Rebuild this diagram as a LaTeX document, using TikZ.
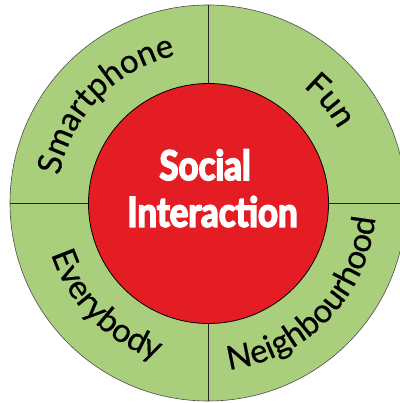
\documentclass[tikz,border=0pt]{standalone}
\usepackage{fontspec}
\usetikzlibrary{decorations.text}
\newfontfamily\latofam[FakeBold=0.5]{Lato}
\newfontfamily\titlefam[FakeStretch=0.85,FakeBold=4]{Lato}
\definecolor{ringgreen}{RGB}{170,207,124}
\definecolor{corered}{RGB}{228,28,36}
\newcommand\lblfont{\latofam\fontsize{33pt}{33pt}\selectfont}
\begin{document}
\begin{tikzpicture}[x=1pt,y=1pt,
  ring/.style={circle, fill=ringgreen, draw=black!70, line width=0.6pt, minimum size=396pt, inner sep=0pt},
  core/.style={circle, fill=corered, draw=black, line width=0.8pt, minimum size=240pt, inner sep=0pt},
  divider/.style={draw=black!85, line width=0.8pt},
  title/.style={text=white, font=\titlefam\bfseries\fontsize{41pt}{41pt}\selectfont, anchor=base, inner sep=0pt},
  arctext/.style={decorate, decoration={text along path, text align=center, text={#1}}}
]
\useasboundingbox (0,0) rectangle (399,403);
\node[ring] (outer) at (208,200) {};
\draw[divider] (outer.north) -- (outer.south);
\draw[divider] (outer.west) -- (outer.east);
\node[core] (core) at (208.5,199.5) {};
\node[title] (t1) at (205,223) {Social};
\node[title] (t2) at (212.5,176.3) {Interaction};
\coordinate (c) at (208,200);
\path[arctext={|\lblfont|Smartphone}] ([shift={(181:151)}]c) arc[start angle=181,end angle=91,radius=151];
\path[arctext={|\lblfont|Fun}] ([shift={(85:150)}]c) arc[start angle=85,end angle=-5,radius=150];
\path[arctext={|\lblfont|Everybody}] ([shift={(180:165)}]c) arc[start angle=180,end angle=270,radius=165];
\path[arctext={|\lblfont|Neighbourhood}] ([shift={(271:168)}]c) arc[start angle=271,end angle=361,radius=168];
\end{tikzpicture}
\end{document}
